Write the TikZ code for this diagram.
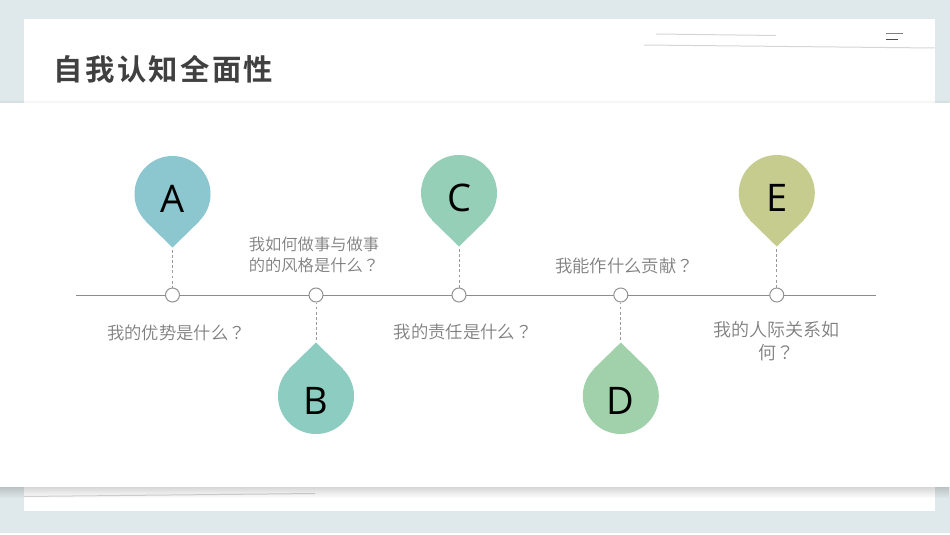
\documentclass[tikz,border=0pt]{standalone}
\usepackage{fontspec}
\setmainfont{Noto Sans CJK SC}
\newfontfamily\titlefont[LetterSpace=8]{Noto Sans CJK SC Bold}
\newfontfamily\notefont{Noto Sans CJK SC DemiLight}
\newfontfamily\markfont{Noto Sans CJK TC DemiLight}
\newfontfamily\pinfont{Open Sans}
\newcommand{\qmark}{{\markfont ？}}
\usetikzlibrary{fadings}
\definecolor{pagebg}{HTML}{DFE8EA}
\definecolor{pina}{HTML}{8CC6CF}
\definecolor{pinb}{HTML}{8DCDC1}
\definecolor{pinc}{HTML}{96CFB8}
\definecolor{pind}{HTML}{A1D1AA}
\definecolor{pine}{HTML}{C5CC8E}
\definecolor{notegray}{HTML}{7F7F7F}
\definecolor{scribble}{HTML}{D6D6D6}
\begin{document}
\begin{tikzpicture}[
  x=0.75pt, y=-0.75pt,
  pinhead/.style = {shape=circle, inner sep=0pt, minimum size=57pt,
    font=\pinfont\fontsize{28.5}{30}\selectfont, text height=27.8pt, text depth=0pt},
  dot/.style = {shape=circle, draw=gray!85, line width=0.75pt, fill=white,
    inner sep=0pt, minimum size=10.5pt},
  stem/.style = {draw=gray!80, line width=0.5pt, dash pattern=on 2.2pt off 1.6pt, shorten <=2pt},
  note/.style = {text=notegray, align=center, inner sep=0pt},
  scrawl/.style = {draw=scribble, line width=0.75pt}
  ]
    \useasboundingbox (0,0) rectangle (950,535);
    \fill[pagebg] (0,0) rectangle (950,535);
    \fill[white] (0,533) rectangle (950,535);
    \fill[white] (24,19) rectangle (935,511);
    \draw[scrawl] (656,34) -- (776,35.5);
    \draw[scrawl] (644,45) -- (934.5,48);
    \draw[scrawl] (24,496.5) -- (315,493.5);
    \draw[gray, line width=1pt] (886,33.7) -- (903,33.7);
    \draw[black!70, line width=1pt] (886,39.7) -- (898,39.7);
    \fill[black, opacity=.05, path fading=north] (0,99) rectangle (950,103);
    \fill[black, opacity=.16, path fading=south] (0,487) rectangle (950,498);
    \fill[white] (0,103) rectangle (950,487);

    \node[text=black!75, font=\titlefont\fontsize{22}{24}\selectfont, inner sep=0pt] (title) at (163.5,69) {自我认知全面性};

    \coordinate (axisl) at (76,295);
    \coordinate (axisr) at (876,295);
    \draw[gray!90, line width=0.75pt] (axisl) -- (axisr);
    \node[dot] (dota) at (172.5,295) {};
    \node[dot] (dotb) at (316,295) {};
    \node[dot] (dotc) at (459,295) {};
    \node[dot] (dotd) at (620.8,295) {};
    \node[dot] (dote) at (776.8,295) {};

    \node[pinhead, fill=pina] (pina) at (172.5,194) {A};
    \node[pinhead, fill=pinb] (pinb) at (316,396) {B};
    \node[pinhead, fill=pinc] (pinc) at (459,193) {C};
    \node[pinhead, fill=pind] (pind) at (620.8,396) {D};
    \node[pinhead, fill=pine] (pine) at (776.8,193) {E};

    \coordinate (tipa) at (172.5,247.5);
    \coordinate (tipb) at (316,342.5);
    \coordinate (tipc) at (459,246.5);
    \coordinate (tipd) at (620.8,342.5);
    \coordinate (tipe) at (776.8,246.5);
    \fill[pina] (pina.-135) -- (tipa) -- (pina.-45) -- cycle;
    \fill[pinb] (pinb.135) -- (tipb) -- (pinb.45) -- cycle;
    \fill[pinc] (pinc.-135) -- (tipc) -- (pinc.-45) -- cycle;
    \fill[pind] (pind.135) -- (tipd) -- (pind.45) -- cycle;
    \fill[pine] (pine.-135) -- (tipe) -- (pine.-45) -- cycle;

    \draw[stem] (tipa) -- (dota);
    \draw[stem] (tipb) -- (dotb);
    \draw[stem] (tipc) -- (dotc);
    \draw[stem] (tipd) -- (dotd);
    \draw[stem] (tipe) -- (dote);

    \node[note, font=\notefont\fontsize{13}{16}\selectfont] (notea) at (176.5,333) {我的优势是什么\qmark};
    \node[note, font=\notefont\fontsize{12.2}{15.8}\selectfont] (noteb) at (314,254.5) {我如何做事与做事\\的的风格是什么\qmark};
    \node[note, font=\notefont\fontsize{13}{16}\selectfont] (notec) at (463,332) {我的责任是什么\qmark};
    \node[note, font=\notefont\fontsize{13}{16}\selectfont] (noted) at (624.5,266) {我能作什么贡献\qmark};
    \node[note, font=\notefont\fontsize{13.5}{17.2}\selectfont] (notee) at (776,341.5) {我的人际关系如\\何\qmark};
\end{tikzpicture}
\end{document}
